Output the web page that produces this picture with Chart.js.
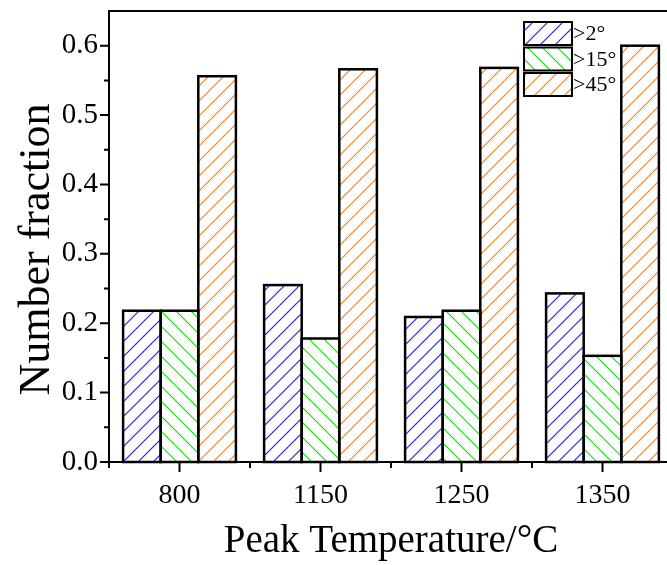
<!DOCTYPE html>
<html>
<head>
<meta charset="utf-8">
<script src="https://cdn.jsdelivr.net/npm/chart.js@4/dist/chart.umd.min.js"></script>
<style>
  html, body { margin: 0; padding: 0; background: #fff; overflow: hidden; }
  #wrap { width: 680px; height: 565px; }
</style>
</head>
<body>
<div id="wrap"><canvas id="c" width="680" height="565"></canvas></div>
<script>
// peak temperatures and boundary fractions
var temps = ['800', '1150', '1250', '1350'];
var seriesNames = ['>2°', '>15°', '>45°'];
var over2 = [0.218, 0.255, 0.209, 0.243];
var over15 = [0.218, 0.178, 0.218, 0.153];
var over45 = [0.556, 0.566, 0.568, 0.600];
var yTicks = [0, 0.1, 0.2, 0.3, 0.4, 0.5, 0.6];
var yTitle = 'Number fraction';

var SERIF = '"Liberation Serif", "Times New Roman", serif';
var canvas = document.getElementById('c');
var ctx = canvas.getContext('2d');

// diagonal hatch tile on white; dir 1 = '/', -1 = '\'
function hatch(color, dir) {
    var s = 15;
    var t = document.createElement('canvas');
    t.width = s; t.height = s;
    var g = t.getContext('2d');
    g.fillStyle = '#fff';
    g.fillRect(0, 0, s, s);
    g.strokeStyle = color;
    g.lineWidth = 1.1;
    g.beginPath();
    if (dir > 0) {
        g.moveTo(-2, s + 2); g.lineTo(s + 2, -2);
        g.moveTo(-2, 2); g.lineTo(2, -2);
        g.moveTo(s - 2, s + 2); g.lineTo(s + 2, s - 2);
    } else {
        g.moveTo(-2, -2); g.lineTo(s + 2, s + 2);
        g.moveTo(s - 2, -2); g.lineTo(s + 2, 2);
        g.moveTo(-2, s - 2); g.lineTo(2, s + 2);
    }
    g.stroke();
    return ctx.createPattern(t, 'repeat');
}

var fills = [hatch('#1a1aff', 1), hatch('#00e600', -1), hatch('#f7801e', 1)];

// black outlines, axis frame, ticks, y title and legend
var framePlugin = {
    id: 'framePlugin',
    afterDatasetsDraw: function(chart) {
        var c = chart.ctx;
        c.save();
        c.strokeStyle = '#000';
        c.lineWidth = 2.5;
        chart.data.datasets.forEach(function(ds, i) {
            chart.getDatasetMeta(i).data.forEach(function(bar) {
                var p = bar.getProps(['x', 'y', 'base', 'width'], true);
                c.strokeRect(p.x - p.width / 2, p.y, p.width, p.base - p.y);
            });
        });
        c.restore();
    },
    afterDraw: function(chart) {
        var c = chart.ctx;
        var a = chart.chartArea;
        var x = chart.scales.x, y = chart.scales.y;
        c.save();
        c.strokeStyle = '#000';
        c.lineWidth = 2;
        c.strokeRect(a.left, a.top, a.right - a.left, a.bottom - a.top);

        c.beginPath();
        // y ticks: major at 0.1, minor halfway
        for (var i = 0; i <= 12; i++) {
            var py = y.getPixelForValue(i * 0.05);
            var len = i % 2 ? 5 : 9;
            c.moveTo(a.left - len, py); c.lineTo(a.left, py);
        }
        // x ticks: major at categories, minor at boundaries
        for (var j = 0; j < temps.length; j++) {
            var px = x.getPixelForValue(j);
            c.moveTo(px, a.bottom); c.lineTo(px, a.bottom + 10);
            var bx = x.getPixelForValue(j - 0.5);
            c.moveTo(bx, a.bottom); c.lineTo(bx, a.bottom + 6);
        }
        c.stroke();

        // rotated y title, sitting a little below the middle of the axis
        c.save();
        c.translate(37, (a.top + a.bottom) / 2 + 13);
        c.rotate(-Math.PI / 2);
        c.font = '44px ' + SERIF;
        c.fillStyle = '#000';
        c.textAlign = 'center';
        c.textBaseline = 'middle';
        c.fillText(yTitle, 0, 0);
        c.restore();

        // legend
        var lx = 524, ly = 22, bw = 48, bh = 23, gap = 25.5;
        c.font = '22px ' + SERIF;
        c.textBaseline = 'middle';
        chart.data.datasets.forEach(function(ds, k) {
            var top = ly + k * gap;
            c.fillStyle = ds.backgroundColor;
            c.fillRect(lx, top, bw, bh);
            c.lineWidth = 2;
            c.strokeRect(lx, top, bw, bh);
            c.fillStyle = '#000';
            c.fillText(ds.label, lx + bw + 1, top + bh / 2 + 1);
        });
        c.restore();
    }
};

new Chart(ctx, {
    type: 'bar',
    data: {
        labels: temps,
        datasets: [
            { label: seriesNames[0], data: over2, backgroundColor: fills[0] },
            { label: seriesNames[1], data: over15, backgroundColor: fills[1] },
            { label: seriesNames[2], data: over45, backgroundColor: fills[2] }
        ]
    },
    options: {
        responsive: false,
        animation: false,
        layout: { padding: { top: 11, right: 7, left: 0, bottom: 0 } },
        datasets: {
            bar: { borderWidth: 0, categoryPercentage: 0.8, barPercentage: 1.0 }
        },
        plugins: {
            legend: { display: false },
            tooltip: { enabled: false }
        },
        scales: {
            x: {
                grid: { display: false, drawTicks: false },
                border: { display: false },
                ticks: { color: '#000', padding: 17, font: { family: SERIF, size: 28 } },
                title: {
                    display: true,
                    text: 'Peak Temperature/°C',
                    color: '#000',
                    font: { family: SERIF, size: 39 },
                    padding: { top: 0, bottom: 0 }
                },
                afterFit: function(s) {
                    s.height = 103;
                    s.paddingLeft = 0;
                    s.paddingRight = 0;
                }
            },
            y: {
                min: 0,
                max: 0.65,
                grid: { display: false, drawTicks: false },
                border: { display: false },
                afterBuildTicks: function(s) {
                    s.ticks = yTicks.map(function(v) { return { value: v }; });
                },
                ticks: {
                    color: '#000',
                    padding: 11,
                    font: { family: SERIF, size: 29 },
                    callback: function(v) { return Number(v).toFixed(1); }
                },
                afterFit: function(s) {
                    s.width = 109;
                    s.paddingTop = 0;
                    s.paddingBottom = 0;
                }
            }
        }
    },
    plugins: [framePlugin]
});
</script>
</body>
</html>
